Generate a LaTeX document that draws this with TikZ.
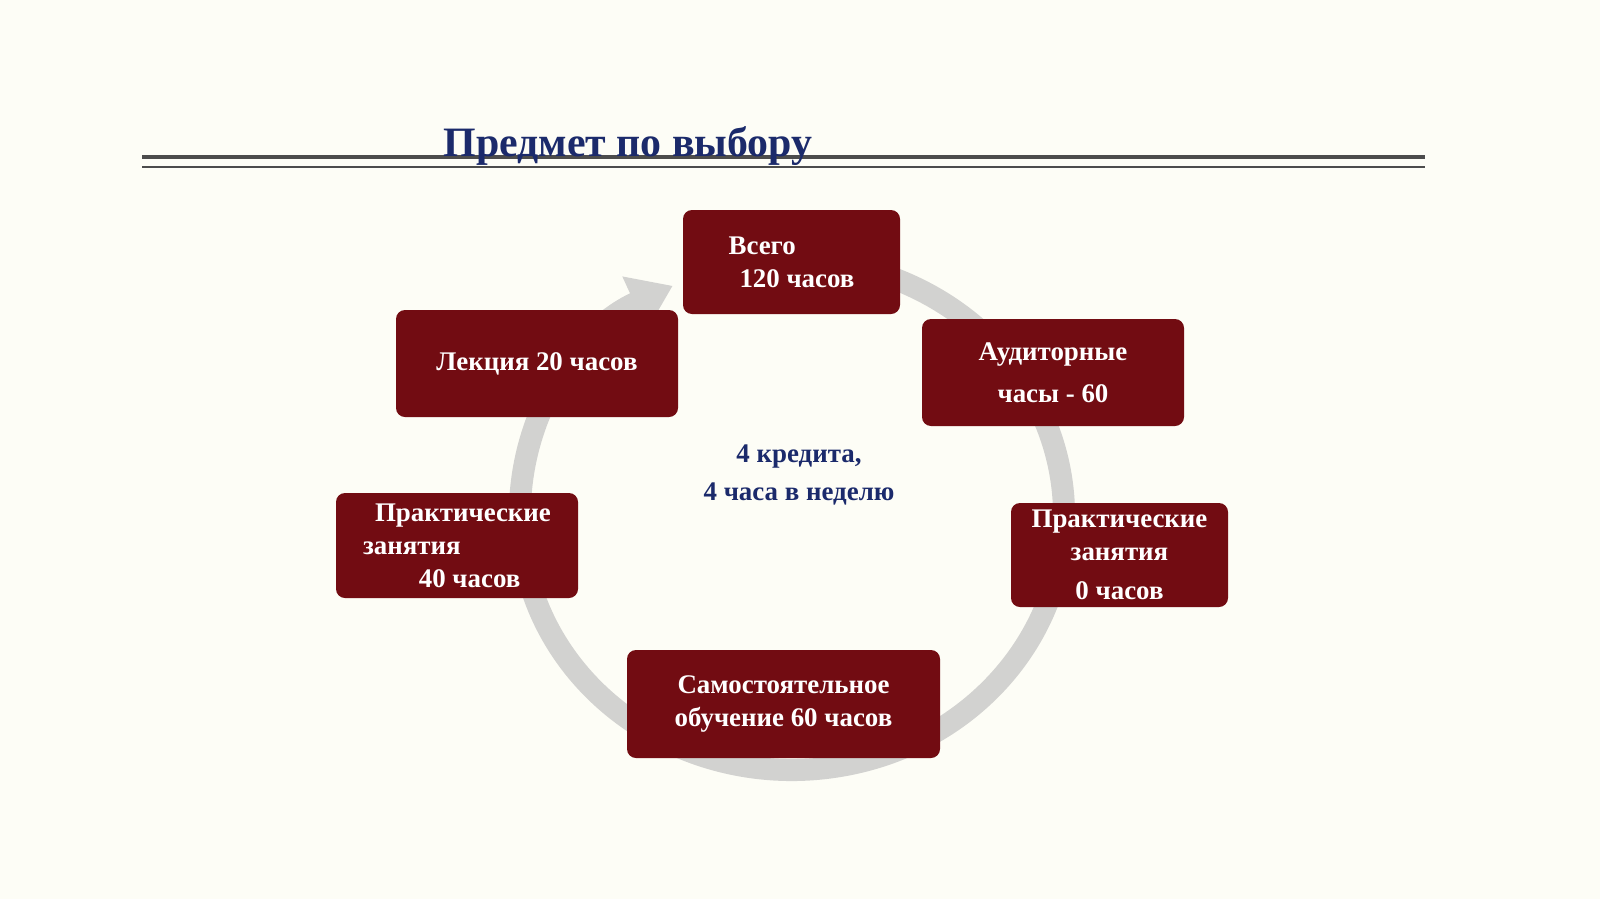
\documentclass[tikz,border=0pt]{standalone}
\usepackage{fontspec}
\setmainfont{Liberation Serif}
\usetikzlibrary{arrows.meta}
\definecolor{bg}{HTML}{FDFDF6}
\definecolor{boxred}{HTML}{720C12}
\definecolor{navy}{HTML}{1B2A6B}
\definecolor{ring}{HTML}{D2D2D0}
\begin{document}
\begin{tikzpicture}[x=1bp,y=-1bp,
  box/.style={fill=boxred,draw=none,rounded corners=9bp,text=white,font=\fontsize{27}{33}\selectfont\bfseries,inner sep=0pt},
  lbl/.style={text=navy,font=\fontsize{27}{39}\selectfont\bfseries,align=center}]
\fill[bg] (0,0) rectangle (1600,899);
\useasboundingbox (0,0) rectangle (1600,899);
\draw[line width=4bp,color=black!70] (142,157) -- (1425,157);
\draw[line width=1.8bp,color=black!70] (142,167) -- (1425,167);
\node[text=navy,font=\fontsize{42}{48}\selectfont\bfseries,anchor=west] (title) at (440,146) {Предмет по выбору};
\coordinate (c) at (792,515);
\draw[ring,line width=22bp,-{Triangle[length=42bp,width=56bp]}] ([shift={(-460:272 and 255)}]c) arc[start angle=-460,end angle=-116,x radius=272,y radius=255];
\node[box,minimum width=217bp,minimum height=104bp,align=left] (total) at (791.5,262) {Всего\\\hspace*{11pt}120 часов};
\node[box,minimum width=262bp,minimum height=107bp,align=center,font=\fontsize{27}{42}\selectfont\bfseries] (aud) at (1053,372.5) {Аудиторные\\часы - 60};
\node[box,minimum width=217bp,minimum height=104bp,align=center] (pr) at (1119.5,555) {Практические\\занятия\\[6pt]0 часов};
\node[box,minimum width=313bp,minimum height=108bp,align=center] (self) at (783.5,704) {Самостоятельное\\обучение 60 часов};
\node[box,minimum width=242bp,minimum height=105bp,align=left] (pl) at (457,545.5) {\hspace*{12pt}Практические\\занятия\\\hspace*{56pt}40 часов};
\node[box,minimum width=282bp,minimum height=107bp] (lec) at (537,363.5) {Лекция 20 часов};
\node[lbl] (ctr) at (799,475) {4 кредита,\\4 часа в неделю};
\end{tikzpicture}
\end{document}
